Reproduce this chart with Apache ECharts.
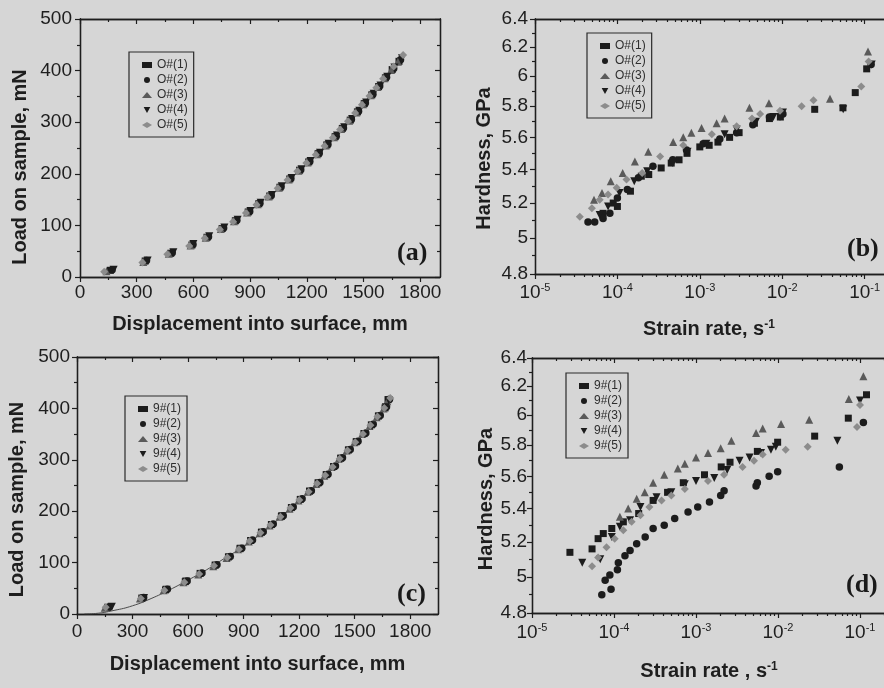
<!DOCTYPE html>
<html><head><meta charset="utf-8">
<script src="https://cdn.jsdelivr.net/npm/echarts@6/dist/echarts.min.js"></script>
<style>html,body{margin:0;padding:0;background:#d6d6d6;}#c{width:884px;height:688px;}</style>
</head><body><div id="c"></div>
<script>
// ---------------- DATA ----------------
const namesO = ['O#(1)', 'O#(2)', 'O#(3)', 'O#(4)', 'O#(5)'];
const names9 = ['9#(1)', '9#(2)', '9#(3)', '9#(4)', '9#(5)'];

const dispTicks = [0, 300, 600, 900, 1200, 1500, 1800];
const dispMinorTicks = [150, 450, 750, 1050, 1350, 1650];
const loadTicks = [0, 100, 200, 300, 400, 500];
const loadMinorTicks = [50, 150, 250, 350, 450];
const rateTicks = [1e-5, 1e-4, 1e-3, 1e-2, 1e-1];
const rateMinorMultipliers = [2, 3, 4, 5, 6, 7, 8, 9];
const hardTicks = [4.8, 5.0, 5.2, 5.4, 5.6, 5.8, 6.0, 6.2, 6.4];
const hardMinorTicks = [4.9, 5.1, 5.3, 5.5, 5.7, 5.9, 6.1, 6.3];

// (a) load vs displacement, O#
const a1 = [[160,13],[345,31],[480,46],[592,62],[672,77],[752,94],[822,109],[890,126],[946,142],[1004,157],[1058,174],[1110,190],[1162,207],[1210,223],[1260,239],[1306,256],[1350,272],[1388,288],[1430,304],[1468,320],[1504,336],[1544,353],[1580,369],[1616,386],[1652,402],[1688,418]];
const a2 = [[170,14],[352,32],[488,47],[598,63],[680,78],[760,95],[830,110],[898,127],[952,143],[1012,158],[1064,175],[1116,191],[1168,208],[1216,224],[1266,240],[1312,257],[1356,273],[1394,289],[1436,305],[1474,321],[1510,337],[1550,354],[1586,370],[1622,387],[1660,404],[1696,421]];
const a3 = [[140,11],[335,29],[470,45],[585,61],[665,76],[745,93],[815,108],[884,125],[940,141],[998,156],[1052,173],[1104,189],[1156,206],[1204,222],[1254,238],[1300,255],[1344,271],[1382,287],[1424,303],[1462,319],[1498,335],[1538,352],[1574,368],[1610,385],[1646,401],[1682,417]];
const a4 = [[178,14],[358,32],[494,48],[600,64],[684,79],[764,96],[834,111],[902,128],[956,144],[1016,159],[1068,176],[1120,192],[1172,209],[1220,225],[1270,241],[1316,258],[1360,274],[1398,290],[1440,306],[1478,322],[1514,338],[1554,355],[1590,371],[1626,388],[1664,406],[1704,424]];
const a5 = [[128,10],[330,28],[462,44],[578,60],[660,75],[740,92],[810,107],[878,124],[934,140],[992,155],[1046,172],[1098,188],[1150,205],[1198,221],[1248,237],[1294,254],[1338,270],[1376,286],[1418,302],[1456,318],[1492,334],[1532,351],[1568,367],[1604,384],[1660,408],[1710,430]];

// (b) hardness vs strain rate, O#
const b1 = [[6.7e-5,5.14],[8.9e-5,5.20],[1.0e-4,5.18],[1.44e-4,5.27],[1.95e-4,5.36],[2.4e-4,5.37],[3.4e-4,5.41],[4.5e-4,5.44],[5.6e-4,5.46],[7e-4,5.50],[1.0e-3,5.54],[1.3e-3,5.55],[1.66e-3,5.57],[2.3e-3,5.60],[3e-3,5.63],[4.6e-3,5.69],[7e-3,5.72],[9.5e-3,5.73],[0.0248,5.78],[0.0546,5.79],[0.077,5.89],[0.106,6.05]];
const b2 = [[4.4e-5,5.09],[5.3e-5,5.09],[6.7e-5,5.11],[8.1e-5,5.14],[1e-4,5.23],[1.32e-4,5.28],[1.8e-4,5.35],[2.7e-4,5.42],[4.7e-4,5.46],[6.9e-4,5.52],[1.1e-3,5.56],[1.75e-3,5.59],[2.8e-3,5.63],[4.4e-3,5.68],[7e-3,5.73],[1.02e-2,5.75],[0.12,6.08]];
const b3 = [[5.2e-5,5.22],[6.5e-5,5.26],[8.3e-5,5.33],[1.16e-4,5.38],[1.63e-4,5.45],[2.37e-4,5.51],[4.75e-4,5.57],[6.3e-4,5.60],[7.9e-4,5.63],[1.05e-3,5.66],[1.6e-3,5.69],[2e-3,5.72],[4e-3,5.79],[6.9e-3,5.82],[0.038,5.85],[0.11,6.17]];
const b4 = [[6.1e-5,5.13],[7.7e-5,5.18],[1.06e-4,5.26],[1.6e-4,5.33],[2.3e-4,5.39],[4.7e-4,5.44],[7.1e-4,5.51],[1.2e-3,5.56],[2e-3,5.62],[2.8e-3,5.65],[4.8e-3,5.70],[7.8e-3,5.73],[9.4e-3,5.73],[1.02e-2,5.76],[0.055,5.78],[0.122,6.08]];
const b5 = [[3.5e-5,5.12],[4.9e-5,5.17],[6.1e-5,5.22],[7.7e-5,5.25],[9.8e-5,5.29],[1.29e-4,5.34],[2e-4,5.38],[3.3e-4,5.48],[6.3e-4,5.55],[1.4e-3,5.62],[2.8e-3,5.67],[4.3e-3,5.72],[5.4e-3,5.75],[9.4e-3,5.77],[0.0172,5.80],[0.024,5.84],[0.091,5.93],[0.112,6.10]];

// (c) load vs displacement, 9#
const c1 = [[165,13],[350,31],[478,47],[585,63],[665,79],[746,95],[818,111],[880,127],[938,143],[996,159],[1050,174],[1104,190],[1158,207],[1206,223],[1256,239],[1302,255],[1346,271],[1386,287],[1424,303],[1466,319],[1508,335],[1550,351],[1590,368],[1628,385],[1664,401],[1680,417]];
const c2 = [[175,14],[360,32],[488,48],[595,64],[675,80],[756,96],[828,112],[890,128],[948,144],[1006,160],[1060,175],[1114,191],[1168,208],[1216,224],[1266,240],[1312,256],[1356,272],[1396,288],[1434,304],[1476,320],[1518,336],[1560,352],[1600,369],[1638,386],[1672,403],[1688,418]];
const c3 = [[150,12],[340,30],[468,46],[575,62],[655,77],[736,93],[808,109],[870,126],[928,141],[986,157],[1040,172],[1094,189],[1148,205],[1196,221],[1246,238],[1292,253],[1336,269],[1376,286],[1414,302],[1456,318],[1498,334],[1540,350],[1580,366],[1618,383],[1656,400],[1676,414]];
const c4 = [[188,14],[362,31],[484,47],[590,63],[670,78],[750,94],[822,110],[884,127],[942,142],[1000,158],[1054,173],[1108,190],[1162,206],[1210,222],[1260,238],[1306,254],[1350,270],[1390,286],[1428,302],[1470,318],[1512,334],[1554,350],[1594,366],[1632,384],[1668,402],[1684,416]];
const c5 = [[155,13],[345,30],[472,46],[580,62],[660,78],[740,94],[812,110],[875,126],[933,142],[991,158],[1045,173],[1099,189],[1153,206],[1201,222],[1251,238],[1297,254],[1341,270],[1381,286],[1419,302],[1461,318],[1503,334],[1545,350],[1585,367],[1623,384],[1660,401],[1692,420]];
const cFit = [[40,0],[100,1],[200,7],[300,16],[400,30],[500,47],[600,66],[700,86],[800,109],[900,131],[1000,158],[1100,188],[1200,220],[1300,254],[1400,290],[1500,330],[1600,370],[1700,422]];

// (d) hardness vs strain rate, 9#
const d1 = [[2.9e-5,5.14],[5.4e-5,5.16],[6.4e-5,5.22],[7.4e-5,5.25],[9.4e-5,5.28],[1.3e-4,5.32],[2e-4,5.37],[3e-4,5.45],[4.5e-4,5.50],[7e-4,5.56],[1.27e-3,5.61],[2.03e-3,5.66],[2.6e-3,5.69],[5.6e-3,5.76],[9.9e-3,5.82],[0.028,5.86],[0.072,5.98],[0.12,6.14]];
const d2 = [[7.1e-5,4.90],[7.8e-5,4.98],[8.9e-5,5.01],[9.2e-5,4.93],[1.1e-4,5.04],[1.13e-4,5.08],[1.36e-4,5.12],[1.57e-4,5.15],[1.89e-4,5.19],[2.4e-4,5.23],[3e-4,5.28],[4.1e-4,5.30],[5.5e-4,5.34],[8e-4,5.38],[1.05e-3,5.41],[1.46e-3,5.44],[2e-3,5.48],[2.2e-3,5.51],[5.4e-3,5.54],[5.6e-3,5.56],[7.8e-3,5.60],[9.9e-3,5.63],[0.056,5.66],[0.11,5.95]];
const d3 = [[1.18e-4,5.35],[1.49e-4,5.40],[1.89e-4,5.46],[2.37e-4,5.50],[3e-4,5.56],[4.1e-4,5.61],[6e-4,5.65],[7.3e-4,5.68],[1e-3,5.72],[1.4e-3,5.75],[2e-3,5.78],[2.7e-3,5.83],[5.4e-3,5.88],[6.5e-3,5.91],[1.09e-2,5.94],[0.024,5.97],[0.073,6.11],[0.11,6.27]];
const d4 = [[4.1e-5,5.08],[6.8e-5,5.10],[9.4e-5,5.23],[1.18e-4,5.29],[1.57e-4,5.33],[2.1e-4,5.41],[3.3e-4,5.47],[5e-4,5.50],[7.3e-4,5.55],[1e-3,5.57],[1.67e-3,5.59],[2.4e-3,5.64],[3.4e-3,5.70],[4.5e-3,5.72],[6.2e-3,5.75],[8.2e-3,5.77],[9.4e-3,5.79],[0.053,5.83],[0.1,6.10]];
const d5 = [[5.4e-5,5.06],[6.4e-5,5.11],[8.1e-5,5.17],[1.02e-4,5.22],[1.3e-4,5.27],[1.64e-4,5.32],[2.1e-4,5.36],[2.7e-4,5.41],[3.8e-4,5.45],[5e-4,5.48],[7.3e-4,5.52],[1.4e-3,5.57],[2.2e-3,5.61],[3.7e-3,5.66],[5.1e-3,5.70],[6.5e-3,5.74],[1.24e-2,5.77],[0.023,5.79],[0.092,5.92],[0.1,6.07]];

// ---------------- STYLE / BUILD ----------------
const F = '"Liberation Sans", Arial, Helvetica, sans-serif';
const INK = '#1e1e1e';
const BG = '#d6d6d6';
const SYM = [
  {symbol: 'rect', size: 7, color: '#1c1c1c', rotate: 0},
  {symbol: 'circle', size: 7.5, color: '#1c1c1c', rotate: 0},
  {symbol: 'triangle', size: 8, color: '#5a5a5a', rotate: 0},
  {symbol: 'triangle', size: 8, color: '#1c1c1c', rotate: 180},
  {symbol: 'diamond', size: 8, color: '#8c8c8c', rotate: 0}
];
const DOWN_TRI = 'path://M0,0L10,0L5,9Z';

const rateMinorTicks = [];
rateTicks.forEach(d => rateMinorMultipliers.forEach(k => rateMinorTicks.push(k * d)));

const xAxes = [], yAxes = [];
function add(list, cfg) { list.push(cfg); return list.length - 1; }

function frame(gi, pos, min, max, ticks, len, inside) {
  return {
    type: 'value', gridIndex: gi, position: pos, min: min, max: max, silent: true,
    axisLine: {show: true, onZero: false, lineStyle: {color: INK, width: 1.3}},
    axisTick: {show: true, inside: inside, length: len, customValues: ticks, lineStyle: {color: INK, width: 1.2}},
    axisLabel: {show: false}, splitLine: {show: false}, minorTick: {show: false},
    axisPointer: {show: false}
  };
}
const labelStyle = {fontFamily: F, fontSize: 19, color: INK};
const nameBase = {fontFamily: F, fontWeight: 'bold', fontSize: 20, color: INK};

function withLabels(ax, ticks, fmt, margin, extra) {
  ax.axisLabel = Object.assign({show: true, customValues: ticks, margin: margin, formatter: fmt}, labelStyle, extra || {});
  return ax;
}
function withName(ax, name, gap, style) {
  ax.name = name; ax.nameLocation = 'middle'; ax.nameGap = gap;
  ax.nameTextStyle = Object.assign({}, nameBase, style || {});
  return ax;
}

// linear panel: returns [xIndex, yIndex]
function linearPanel(gi, xMax, p) {
  const xi = add(xAxes, withName(withLabels(frame(gi, 'bottom', 0, xMax, dispTicks, 5, false), dispTicks, v => String(v), p.xm),
    'Displacement into surface, mm', p.xGap));
  add(xAxes, frame(gi, 'bottom', 0, xMax, dispMinorTicks, 3, false));
  add(xAxes, frame(gi, 'top', 0, xMax, dispTicks, 5, true));
  add(xAxes, frame(gi, 'top', 0, xMax, dispMinorTicks, 3, true));
  const yi = add(yAxes, withName(withLabels(frame(gi, 'left', 0, 500, loadTicks, 5, false), loadTicks, v => String(v), p.ym),
    'Load on sample, mN', p.yGap, {padding: [0, p.yShift, 0, 0]}));
  add(yAxes, frame(gi, 'left', 0, 500, loadMinorTicks, 3, false));
  add(yAxes, frame(gi, 'right', 0, 500, loadTicks, 5, true));
  add(yAxes, frame(gi, 'right', 0, 500, loadMinorTicks, 3, true));
  return [xi, yi];
}

// log-log panel: data axes are native log axes; frame / tick decoration axes sit on top
function logPanel(gi, p) {
  const xi = add(xAxes, {type: 'log', logBase: 10, gridIndex: gi, min: 1e-5, max: 1, show: false, position: 'bottom', axisLine: {onZero: false}});
  const yi = add(yAxes, {type: 'log', logBase: 10, gridIndex: gi, min: 4.8, max: 6.4, show: false, position: 'left', axisLine: {onZero: false}});
  const L = Math.log10;
  const x0 = L(1e-5), x1 = L(1), y0 = L(4.8), y1 = L(6.4);
  const xMaj = rateTicks.map(L), xMin = rateMinorTicks.map(L);
  const yMaj = hardTicks.map(L), yMin = hardMinorTicks.map(L);
  add(xAxes, withName(withLabels(frame(gi, 'bottom', x0, x1, xMaj, 5, false), xMaj,
      v => '{b|10}{s|' + Math.round(v) + '}', p.xm,
      {rich: {b: {fontFamily: F, fontSize: 19, color: INK, lineHeight: 22},
              s: {fontFamily: F, fontSize: 11, color: INK, verticalAlign: 'top', lineHeight: 12}}}),
    p.xName, p.xGap,
    {padding: [0, p.xShift, 0, 0],
     rich: {n: Object.assign({}, nameBase), s: Object.assign({}, nameBase, {fontSize: 12, verticalAlign: 'top', lineHeight: 12})}}));
  add(xAxes, frame(gi, 'bottom', x0, x1, xMin, 3, false));
  add(xAxes, frame(gi, 'top', x0, x1, xMaj, 5, true));
  add(xAxes, frame(gi, 'top', x0, x1, xMin, 3, true));
  add(yAxes, withName(withLabels(frame(gi, 'left', y0, y1, yMaj, 5, false), yMaj,
      v => String(+Math.pow(10, v).toFixed(1)), p.ym),
    'Hardness, GPa', p.yGap, {padding: [0, p.yShift, 0, 0]}));
  add(yAxes, frame(gi, 'left', y0, y1, yMin, 3, false));
  add(yAxes, frame(gi, 'right', y0, y1, yMaj, 5, true));
  add(yAxes, frame(gi, 'right', y0, y1, yMin, 3, true));
  return [xi, yi];
}

const grids = [
  {left: 80, top: 19, width: 360, height: 258},
  {left: 535, top: 19, width: 412, height: 255},
  {left: 77, top: 357, width: 361, height: 257},
  {left: 532, top: 358, width: 410, height: 255}
].map(g => Object.assign(g, {containLabel: false, outerBoundsMode: 'none', show: false}));

const pa = linearPanel(0, 1905, {xm: 6, ym: 8, xGap: 37, yGap: 50, yShift: 38});
const pb = logPanel(1, {xm: 8, ym: 7, xGap: 45, yGap: 41, yShift: 24, xShift: 64, xName: '{n|Strain rate, s}{s|-1}'});
const pc = linearPanel(2, 1950, {xm: 8, ym: 7, xGap: 40, yGap: 50, yShift: 28});
const pd = logPanel(3, {xm: 9, ym: 5, xGap: 48, yGap: 36, yShift: 27, xShift: 56, xName: '{n|Strain rate , s}{s|-1}'});

const series = [];
function addScatter(names, sets, axes) {
  sets.forEach((data, i) => {
    const s = SYM[i];
    series.push({
      type: 'scatter', name: names[i], data: data, xAxisIndex: axes[0], yAxisIndex: axes[1],
      symbol: s.symbol, symbolSize: s.size, symbolRotate: s.rotate,
      itemStyle: {color: s.color, opacity: 1}, silent: true, animation: false, z: 3
    });
  });
}
addScatter(namesO, [a1, a2, a3, a4, a5], pa);
addScatter(namesO, [b1, b2, b3, b4, b5], pb);
addScatter(names9, [c1, c2, c3, c4, c5], pc);
addScatter(names9, [d1, d2, d3, d4, d5], pd);
series.push({type: 'line', name: 'fit', data: cFit, xAxisIndex: pc[0], yAxisIndex: pc[1], smooth: true,
  showSymbol: false, lineStyle: {color: '#4a4a4a', width: 1}, silent: true, animation: false, z: 2});

function legend(names, left, top) {
  return {
    data: names.map((n, i) => SYM[i].rotate ? {name: n, icon: DOWN_TRI} : {name: n}),
    orient: 'vertical', left: left, top: top,
    itemWidth: 10, itemHeight: 6, itemGap: 3, padding: [7, 6, 6, 13],
    borderColor: '#2a2a2a', borderWidth: 1.2, borderRadius: 0, backgroundColor: 'transparent',
    textStyle: {fontFamily: F, fontSize: 12, lineHeight: 12, color: '#2e2e2e'},
    selectedMode: false
  };
}

const panelTag = (t, x, y) => ({type: 'text', left: x, top: y, silent: true,
  style: {text: t, font: 'bold 26px "Liberation Serif", "Times New Roman", serif', fill: '#1a1a1a'}});

const chart = echarts.init(document.getElementById('c'), null, {renderer: 'canvas'});
chart.setOption({
  backgroundColor: BG,
  animation: false,
  grid: grids,
  xAxis: xAxes,
  yAxis: yAxes,
  legend: [legend(namesO, 129, 52), legend(namesO, 587, 33), legend(names9, 125, 396), legend(names9, 566, 373)],
  series: series,
  graphic: [panelTag('(a)', 397, 240), panelTag('(b)', 847, 236), panelTag('(c)', 397, 581), panelTag('(d)', 846, 572)]
});
</script></body></html>
